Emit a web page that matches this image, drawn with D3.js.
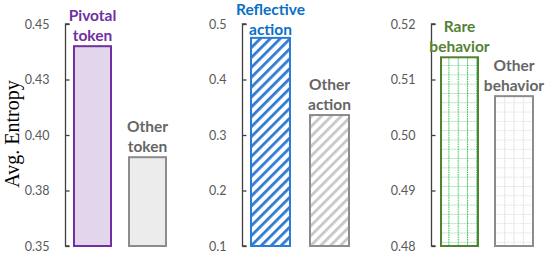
<!DOCTYPE html>
<html><head><meta charset="utf-8">
<script src="https://cdn.jsdelivr.net/npm/d3@7"></script>
<style>body{margin:0;background:#fff}svg{display:block}</style>
</head><body>
<script>
// ---- data ----
const panel1Categories = ["Pivotal token", "Other token"];
const panel1Values = [0.440, 0.390];
const panel1Ticks = [0.35, 0.375, 0.40, 0.425, 0.45];
const panel1TickLabels = ["0.35", "0.38", "0.40", "0.43", "0.45"];

const panel2Categories = ["Reflective action", "Other action"];
const panel2Values = [0.475, 0.336];
const panel2Ticks = [0.1, 0.2, 0.3, 0.4, 0.5];
const panel2TickLabels = ["0.1", "0.2", "0.3", "0.4", "0.5"];

const panel3Categories = ["Rare behavior", "Other behavior"];
const panel3Values = [0.514, 0.507];
const panel3Ticks = [0.48, 0.49, 0.50, 0.51, 0.52];
const panel3TickLabels = ["0.48", "0.49", "0.50", "0.51", "0.52"];

const yTitle = "Avg. Entropy";

// ---- layout ----
const W = 548, H = 255;
const svg = d3.select("body").append("svg").attr("width", W).attr("height", H);
const defs = svg.append("defs");

// patterns
const hatchBlue = defs.append("pattern").attr("id","hatchBlue").attr("patternUnits","userSpaceOnUse")
  .attr("width",7).attr("height",7).attr("patternTransform","rotate(45)");
hatchBlue.append("rect").attr("width",7).attr("height",7).attr("fill","#fff");
hatchBlue.append("rect").attr("x",0).attr("width",2.8).attr("height",7).attr("fill","#2E7BD6");

const hatchGray = defs.append("pattern").attr("id","hatchGray").attr("patternUnits","userSpaceOnUse")
  .attr("width",7).attr("height",7).attr("patternTransform","rotate(45)");
hatchGray.append("rect").attr("width",7).attr("height",7).attr("fill","#fff");
hatchGray.append("rect").attr("x",0).attr("width",2.8).attr("height",7).attr("fill","#c8c8c8");

function gridPattern(id, vColor, hColor) {
  const p = defs.append("pattern").attr("id", id).attr("patternUnits","userSpaceOnUse")
    .attr("width",9.3).attr("height",9.3).attr("x",2);
  p.append("rect").attr("width",9.3).attr("height",9.3).attr("fill","#fff");
  p.append("line").attr("x1",0).attr("x2",9.3).attr("y1",0.5).attr("y2",0.5)
    .attr("stroke",hColor).attr("stroke-width",1).attr("stroke-dasharray","2,1");
  p.append("line").attr("x1",0.5).attr("x2",0.5).attr("y1",0).attr("y2",9.3)
    .attr("stroke",vColor).attr("stroke-width",1).attr("stroke-dasharray","1.2,1");
  return p;
}
gridPattern("gridGreen", "#12c040", "#a3dcb0");
gridPattern("gridGray", "#d6d6d6", "#e2e2e2");

const panels = [
  { cats: panel1Categories, vals: panel1Values, ticks: panel1Ticks, labels: panel1TickLabels,
    axisX: 65.5, bars: [[74,111],[129,166]],
    styles: [{fill:"#E2D5EC", stroke:"#7030A0", text:"#7030A0"},{fill:"#ECECEC", stroke:"#8C8C8C", text:"#666666"}] },
  { cats: panel2Categories, vals: panel2Values, ticks: panel2Ticks, labels: panel2TickLabels,
    axisX: 242.5, bars: [[251,290],[310,349]],
    styles: [{fill:"url(#hatchBlue)", stroke:"#2E7BD6", text:"#0A70C6"},{fill:"url(#hatchGray)", stroke:"#8C8C8C", text:"#666666"}] },
  { cats: panel3Categories, vals: panel3Values, ticks: panel3Ticks, labels: panel3TickLabels,
    axisX: 431.5, bars: [[441,478],[495,533]],
    styles: [{fill:"url(#gridGreen)", stroke:"#548235", text:"#548235"},{fill:"url(#gridGray)", stroke:"#8C8C8C", text:"#666666"}] }
];

const yTop = 24, yBot = 246;

panels.forEach(p => {
  const y = d3.scaleLinear().domain([p.ticks[0], p.ticks[p.ticks.length-1]]).range([yBot, yTop]);
  const axis = d3.axisRight(y).tickValues(p.ticks).tickSize(4)
    .tickFormat((d,i) => p.labels[i]);
  const g = svg.append("g").attr("transform", `translate(${p.axisX},0)`).call(axis);
  g.select(".domain").attr("stroke","#404040").attr("stroke-width",1.3)
    .attr("d", `M4,${yTop}H0V${yBot}H4`);
  g.selectAll(".tick line").attr("stroke","#404040").attr("stroke-width",1.3);
  g.selectAll(".tick text").attr("x",-16).attr("text-anchor","end")
    .attr("fill","#595959").attr("font-family","Lato, 'Open Sans', sans-serif")
    .attr("font-size",12.5).attr("dy","0.35em");

  p.cats.forEach((c, i) => {
    const [x0, x1] = p.bars[i];
    const st = p.styles[i];
    const top = y(p.vals[i]);
    svg.append("rect").attr("x", x0).attr("y", top)
      .attr("width", x1 - x0).attr("height", yBot - top)
      .attr("fill", st.fill).attr("stroke", st.stroke).attr("stroke-width", 2);
    const words = c.split(" ");
    const cx = (x0 + x1) / 2;
    const first = Math.max(15, top - 25);
    const gap = Math.min(20, top - 3 - first);
    const t = svg.append("text").attr("text-anchor","middle")
      .attr("font-family","Lato, 'Open Sans', sans-serif").attr("font-weight","bold")
      .attr("font-size",15.5).attr("fill", st.text);
    words.forEach((w, k) => {
      t.append("tspan").attr("x", cx).attr("y", first + k * gap).text(w);
    });
  });
});

svg.append("text").attr("transform","translate(19,134) rotate(-90)")
  .attr("text-anchor","middle").attr("font-family","'Liberation Serif', 'Times New Roman', serif")
  .attr("font-size",20).attr("fill","#000").text(yTitle);
</script>
</body></html>
